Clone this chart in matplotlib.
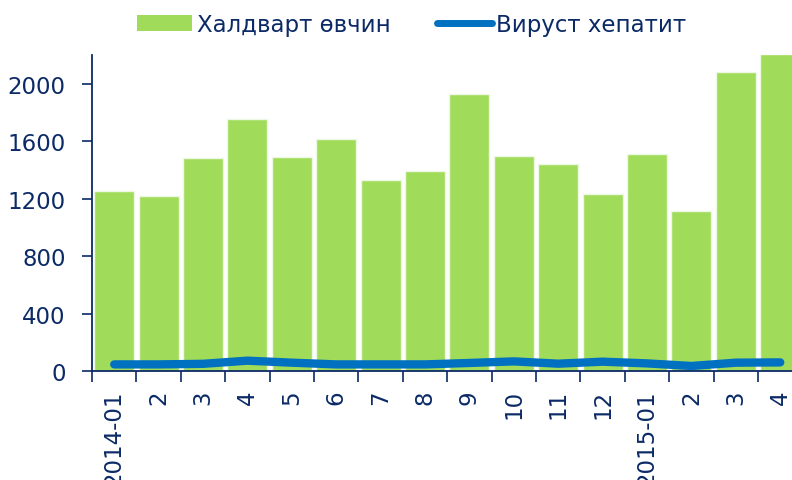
import numpy as np
from matplotlib import pyplot as plt
from matplotlib.lines import Line2D
from matplotlib.patches import Patch

labels = ['2014-01', '2', '3', '4', '5', '6', '7', '8', '9', '10', '11', '12',
          '2015-01', '2', '3', '4']
infect = [1256, 1219, 1486, 1751, 1493, 1612, 1333, 1391, 1928, 1496, 1438, 1231,
          1512, 1117, 2081, 2210]
hepatitis = [46, 46, 50, 72, 58, 46, 46, 46, 56, 67, 51, 65, 53, 35, 58, 60]
series_names = ['Халдварт өвчин', 'Вируст хепатит']

navy = '#0B2A66'
green = '#A0DC5A'
blue = '#0070C0'

fig = plt.figure(figsize=(7.92, 4.81), dpi=100)
ax = fig.add_axes([0.1162, 0.2266, 0.897, 0.657])

x = np.arange(len(labels))
ax.bar(x, infect, width=0.9, color=green, edgecolor='#EEF7E4', linewidth=1.0, zorder=2)
ax.plot(x, hepatitis, color=blue, lw=6, solid_capstyle='round', solid_joinstyle='round', zorder=3)

ax.set_xlim(-0.5, len(labels) - 0.5)
ax.set_ylim(0, 2200)
ax.set_yticks(np.arange(0, 2001, 400))

# tick marks between categories, labels at the centres
ax.set_xticks(np.arange(len(labels)) - 0.5)
ax.set_xticklabels([])
ax.set_xticks(x, minor=True)
ax.set_xticklabels(labels, minor=True, rotation=90, fontsize=16.5, color=navy)
ax.tick_params(axis='x', which='major', direction='out', length=8, width=1.2, color=navy)
ax.tick_params(axis='x', which='minor', length=0, pad=13)
ax.tick_params(axis='y', direction='out', length=7, width=1.2, color=navy,
               labelsize=16.5, labelcolor=navy, pad=12)

for s in ['top', 'right']:
    ax.spines[s].set_visible(False)
for s in ['left', 'bottom']:
    ax.spines[s].set_color(navy)
    ax.spines[s].set_linewidth(1.3)

handles = [Patch(facecolor=green, edgecolor='none'),
           Line2D([0], [0], color=blue, lw=5, solid_capstyle='round')]
fig.legend(handles, series_names,
           loc='center', bbox_to_anchor=(0.52, 0.946), ncol=2, frameon=False,
           fontsize=16.5, labelcolor=navy, handlelength=2.4, handleheight=0.7,
           handletextpad=0.2, columnspacing=2.0)

fig.savefig('out.png', dpi=100)
